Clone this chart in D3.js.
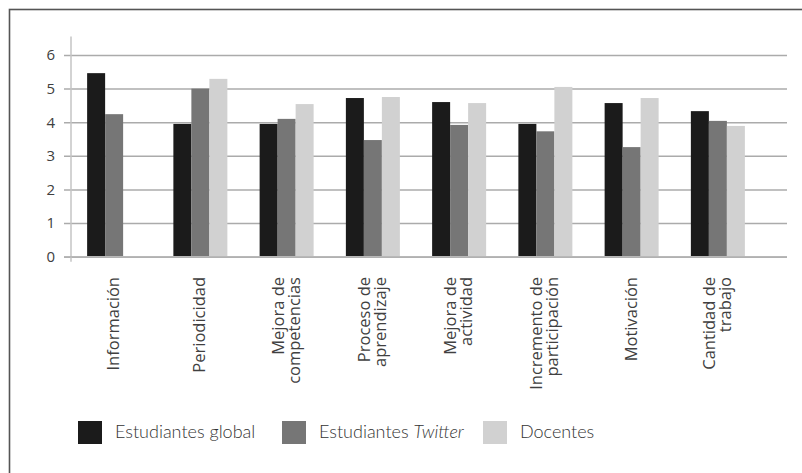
<!DOCTYPE html>
<html>
<head>
<meta charset="utf-8">
<script src="https://cdn.jsdelivr.net/npm/d3@7"></script>
<style>
  html, body { margin: 0; padding: 0; background: #fff; }
  svg { display: block; }
  .tick-label, .cat-label { font-family: "Open Sans", sans-serif; font-weight: 400; fill: #404040; }
  .legend-label { font-family: Lato, sans-serif; font-weight: 300; fill: #333; }
</style>
</head>
<body>
<svg id="chart" width="802" height="473"></svg>
<script>
// Categories (line breaks mark the wrapped axis labels)
const categories = [
  "Información",
  "Periodicidad",
  "Mejora de\ncompetencias",
  "Proceso de\naprendizaje",
  "Mejora de\nactividad",
  "Incremento de\nparticipación",
  "Motivación",
  "Cantidad de\ntrabajo"
];

// Series values
const estudiantesGlobal  = [5.46, 3.95, 3.95, 4.72, 4.60, 3.95, 4.57, 4.33];
const estudiantesTwitter = [4.24, 5.00, 4.10, 3.47, 3.92, 3.73, 3.26, 4.04];
const docentes           = [null, 5.29, 4.54, 4.75, 4.57, 5.05, 4.72, 3.89];

const seriesNames = ["Estudiantes global", "Estudiantes Twitter", "Docentes"];
const seriesColors = ["#1b1b1b", "#767676", "#d1d1d1"];
const yTicks = [0, 1, 2, 3, 4, 5, 6];

const series = [estudiantesGlobal, estudiantesTwitter, docentes];

const svg = d3.select("#chart");

// Outer frame
svg.append("rect")
  .attr("x", 9.5).attr("y", 9.5)
  .attr("width", 820).attr("height", 490)
  .attr("fill", "none")
  .attr("stroke", "#555")
  .attr("stroke-width", 1.6);

const plotLeft = 71, plotRight = 787, gridLeft = 64;

const y = d3.scaleLinear().domain([0, 6]).range([256.7, 55]);
const x0 = d3.scaleBand().domain(categories).range([plotLeft, 761]).padding(0);
const groupWidth = 54;
const x1 = d3.scaleBand().domain(seriesNames).range([0, groupWidth]).padding(0);

// Gridlines + y tick labels
const yAxis = d3.axisLeft(y)
  .tickValues(yTicks)
  .tickFormat(d3.format("d"))
  .tickSizeInner(-(plotRight - gridLeft))
  .tickSizeOuter(0)
  .tickPadding(9);

const gy = svg.append("g")
  .attr("transform", `translate(${gridLeft},0)`)
  .call(yAxis);
gy.select(".domain").remove();
gy.selectAll(".tick line")
  .attr("stroke", "#ababab")
  .attr("stroke-width", 1.5);
gy.selectAll(".tick text")
  .attr("class", "tick-label")
  .style("font-size", "15px");

// Vertical axis line
svg.append("line")
  .attr("x1", plotLeft).attr("x2", plotLeft)
  .attr("y1", y(6.55)).attr("y2", y(0) + 5)
  .attr("stroke", "#c4c4c4")
  .attr("stroke-width", 1.5);

// Bars
const groups = svg.append("g").selectAll("g")
  .data(categories)
  .join("g")
  .attr("transform", d => `translate(${x0(d) + (x0.bandwidth() - groupWidth) / 2},0)`);

groups.selectAll("rect")
  .data((d, i) => series.map((s, k) => ({ name: seriesNames[k], value: s[i], color: seriesColors[k] }))
    .filter(e => e.value != null))
  .join("rect")
  .attr("x", d => x1(d.name))
  .attr("width", x1.bandwidth())
  .attr("y", d => y(d.value))
  .attr("height", d => y(0) - y(d.value))
  .attr("fill", d => d.color);

// Re-draw the baseline above the bars
svg.append("line")
  .attr("x1", gridLeft).attr("x2", plotRight)
  .attr("y1", y(0)).attr("y2", y(0))
  .attr("stroke", "#b8b8b8")
  .attr("stroke-width", 1.5);

// Category labels (rotated)
const lineH = 16;
const labels = svg.append("g").selectAll("text")
  .data(categories)
  .join("text")
  .attr("class", "cat-label")
  .style("font-size", "16.5px")
  .attr("text-anchor", "end")
  .attr("transform", d => `translate(${x0(d) + x0.bandwidth() / 2 - 1},277) rotate(-90)`);

labels.each(function(d) {
  const lines = d.split("\n");
  const t = d3.select(this);
  lines.forEach((ln, i) => {
    t.append("tspan")
      .attr("x", 0)
      .attr("y", (i - (lines.length - 1) / 2) * lineH + 6)
      .text(ln);
  });
});

// Legend
const legendX = [78, 282, 483];
const legend = svg.append("g").selectAll("g")
  .data(seriesNames)
  .join("g")
  .attr("transform", (d, i) => `translate(${legendX[i]},421)`);

legend.append("rect")
  .attr("width", 24).attr("height", 23)
  .attr("fill", (d, i) => seriesColors[i]);

legend.append("text")
  .attr("class", "legend-label")
  .attr("x", 37).attr("y", 16.5)
  .style("font-size", "18px")
  .each(function(d) {
    const t = d3.select(this);
    if (d === "Estudiantes Twitter") {
      t.append("tspan").text("Estudiantes ");
      t.append("tspan").style("font-style", "italic").text("Twitter");
    } else {
      t.text(d);
    }
  });
</script>
</body>
</html>
